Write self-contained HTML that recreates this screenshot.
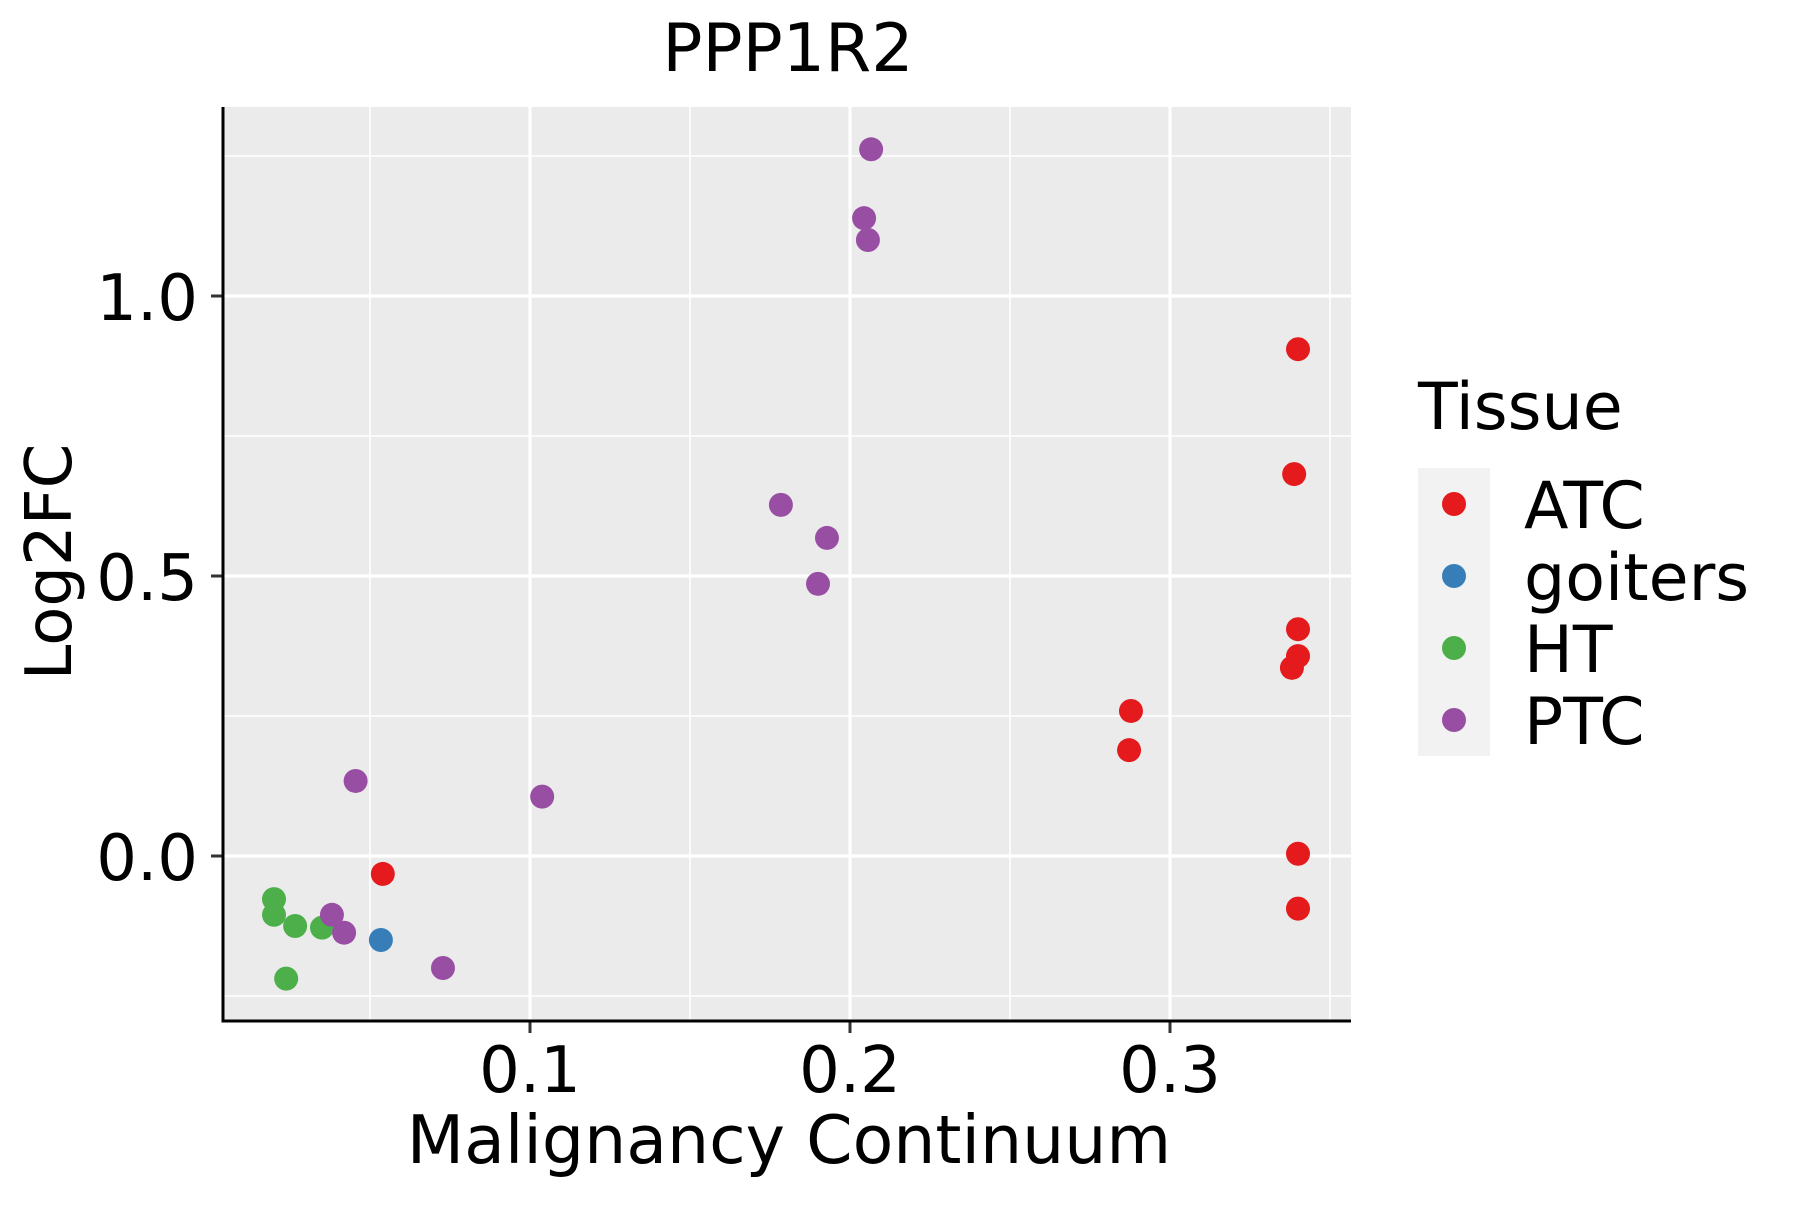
<!DOCTYPE html>
<html><head><meta charset="utf-8"><style>
html,body{margin:0;padding:0;background:#fff;}
svg text{font-family:"DejaVu Sans","Liberation Sans",sans-serif;fill:#000;}
</style></head><body>
<svg id="chart" width="1800" height="1200" viewBox="0 0 1800 1200" xmlns="http://www.w3.org/2000/svg">
<rect x="0" y="0" width="1800" height="1200" fill="#fff"/>
<text x="788" y="71" font-size="66.5" text-anchor="middle">PPP1R2</text>
<g id="plot"></g>
<text x="789" y="1163" font-size="66.5" text-anchor="middle">Malignancy Continuum</text>
<text x="0" y="0" font-size="64" text-anchor="middle" transform="translate(71,562) rotate(-90)">Log2FC</text>
<g>
<text x="1418" y="429" font-size="65">Tissue</text>
<rect x="1418" y="468" width="72" height="288" fill="#F2F2F2"/>
<circle cx="1454" cy="504" r="12" fill="#E41A1C"/>
<circle cx="1454" cy="576" r="12" fill="#377EB8"/>
<circle cx="1454" cy="648" r="12" fill="#4DAF4A"/>
<circle cx="1454" cy="720" r="12" fill="#984EA3"/>
<text x="1524" y="528" font-size="65">ATC</text>
<text x="1524" y="600" font-size="65">goiters</text>
<text x="1524" y="672" font-size="65">HT</text>
<text x="1524" y="744" font-size="65">PTC</text>
</g>
</svg>
<script>
const xTicks = [0.1, 0.2, 0.3];
const xTickLabels = ["0.1", "0.2", "0.3"];
const xMinor = [0.05, 0.15, 0.25, 0.35];
const yTicks = [0.0, 0.5, 1.0];
const yTickLabels = ["0.0", "0.5", "1.0"];
const yMinor = [-0.25, 0.25, 0.75, 1.25];
const groupNames = ["ATC", "goiters", "HT", "PTC"];
const groupColors = ["#E41A1C", "#377EB8", "#4DAF4A", "#984EA3"];
const xVals = [0.054, 0.340, 0.3388, 0.340, 0.340, 0.3381, 0.2878, 0.2872, 0.340, 0.340,
  0.0534,
  0.020, 0.020, 0.0266, 0.035, 0.0238,
  0.0381, 0.0419, 0.0728, 0.0455, 0.1038, 0.2066, 0.2044, 0.2056, 0.1784, 0.1928, 0.190];
const yVals = [-0.032, 0.905, 0.682, 0.405, 0.357, 0.336, 0.259, 0.189, 0.004, -0.094,
  -0.150,
  -0.077, -0.105, -0.125, -0.128, -0.219,
  -0.105, -0.137, -0.200, 0.134, 0.106, 1.262, 1.139, 1.100, 0.627, 0.568, 0.486];
const groups = ["ATC","ATC","ATC","ATC","ATC","ATC","ATC","ATC","ATC","ATC",
  "goiters",
  "HT","HT","HT","HT","HT",
  "PTC","PTC","PTC","PTC","PTC","PTC","PTC","PTC","PTC","PTC","PTC"];

const L = 223, R = 1351, T = 107, B = 1021;
const xMin = 0.00406, xMax = 0.00406 + (R - L) / 3200;
const yMax = (856 - T) / 560, yMin = (856 - B) / 560;
function sx(v){ return L + (v - xMin) / (xMax - xMin) * (R - L); }
function sy(v){ return B - (v - yMin) / (yMax - yMin) * (B - T); }

const NS = "http://www.w3.org/2000/svg";
const plot = document.getElementById("plot");
function mk(tag, attrs){ const e = document.createElementNS(NS, tag); for (const k in attrs) e.setAttribute(k, attrs[k]); return e; }

let bg = mk("rect", {x:L, y:T, width:R-L, height:B-T, fill:"#EBEBEB"});


plot.appendChild(bg);

xMinor.forEach(v => { const X = sx(v); if (X < L || X > R) return;
  let g = mk("line", {x1:X, x2:X, y1:T, y2:B, stroke:"#fff", "stroke-width":1.6});
  
  
  plot.appendChild(g); });
yMinor.forEach(v => { const Y = sy(v); if (Y < T || Y > B) return;
  let g = mk("line", {x1:L, x2:R, y1:Y, y2:Y, stroke:"#fff", "stroke-width":1.6});
  
  
  plot.appendChild(g); });
xTicks.forEach(v => { const X = sx(v);
  let g = mk("line", {x1:X, x2:X, y1:T, y2:B, stroke:"#fff", "stroke-width":3.2});
  
  
  plot.appendChild(g); });
yTicks.forEach(v => { const Y = sy(v);
  let g = mk("line", {x1:L, x2:R, y1:Y, y2:Y, stroke:"#fff", "stroke-width":3.2});
  
  
  plot.appendChild(g); });

for (let i = 0; i < xVals.length; i++) {
  const gi = groupNames.indexOf(groups[i]);
  let c = mk("circle", {cx:sx(xVals[i]), cy:sy(yVals[i]), r:12, fill:groupColors[gi]});
  
  
  plot.appendChild(c);
}

let ya = mk("line", {x1:L, x2:L, y1:T, y2:B+1.5, stroke:"#000", "stroke-width":3});


plot.appendChild(ya);
let xa = mk("line", {x1:L-1.5, x2:R, y1:B, y2:B, stroke:"#000", "stroke-width":3});


plot.appendChild(xa);

xTicks.forEach((v, i) => { const X = sx(v);
  let t = mk("line", {x1:X, x2:X, y1:B+1.5, y2:B+12, stroke:"#333", "stroke-width":3});
  
  
  plot.appendChild(t);
  let lb = mk("text", {x:X, y:1092, "font-size":64, "text-anchor":"middle"});
  lb.textContent = xTickLabels[i];
  
  
  plot.appendChild(lb); });
yTicks.forEach((v, i) => { const Y = sy(v);
  let t = mk("line", {x1:L-12, x2:L-1.5, y1:Y, y2:Y, stroke:"#333", "stroke-width":3});
  
  
  plot.appendChild(t);
  let lb = mk("text", {x:198, y:Y+24, "font-size":64, "text-anchor":"end"});
  lb.textContent = yTickLabels[i];
  
  
  plot.appendChild(lb); });
</script>
</body></html>
